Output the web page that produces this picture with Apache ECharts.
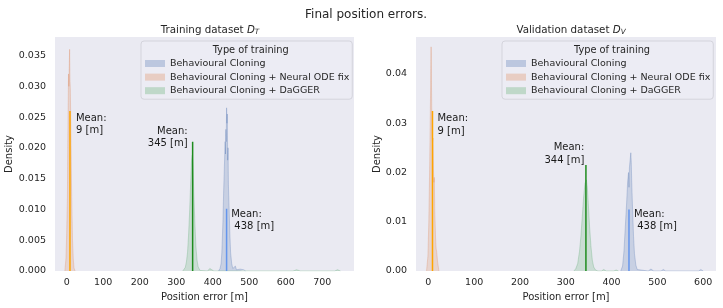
<!DOCTYPE html>
<html><head><meta charset="utf-8">
<script src="https://cdn.jsdelivr.net/npm/echarts@6/dist/echarts.min.js"></script>
<style>html,body{margin:0;padding:0;background:#fff}#c{width:723px;height:308px}</style>
</head><body><div id="c"></div>
<script>
// ---------- data ----------
const seriesNames = ['Behavioural Cloning', 'Behavioural Cloning + Neural ODE fix', 'Behavioural Cloning + DaGGER'];

// Training dataset: density curves
const trainBC_x = [416,420,423,425,428,430,432,434,435,436,437,438,439,440,441,442,443,445,447,449,452,455,458,462,465,470,475,480,485,490];
const trainBC_y = [0,0.0004,0.0012,0.003,0.008,0.013,0.017,0.021,0.019,0.023,0.021,0.0265,0.024,0.0255,0.018,0.020,0.014,0.010,0.006,0.003,0.0012,0.0004,0.0002,0.0008,0.0002,0.0004,0.0003,0.0006,0.0002,0];
const trainODE_x = [-5,-2,0,2,3,4,5,6,7,8,9,10,11,12,13,14,15,16,18,20,23];
const trainODE_y = [0,0.002,0.006,0.012,0.020,0.026,0.032,0.030,0.033,0.036,0.031,0.0295,0.025,0.020,0.015,0.011,0.008,0.005,0.002,0.0005,0];
const trainDAG_x = [318,322,325,328,331,334,337,340,342,344,346,348,351,354,357,360,365,370,386,392,397,403,620,630,640,734,742,750];
const trainDAG_y = [0,0.0002,0.0006,0.0015,0.003,0.006,0.010,0.015,0.018,0.0188,0.017,0.013,0.008,0.004,0.0018,0.0007,0.0001,0,0,0.0004,0.0005,0,0,0.0002,0,0,0.0002,0];

// Validation dataset: density curves
const valBC_x = [420,424,427,430,433,435,437,438,439,441,442,443,444,446,448,450,453,456,460,480,486,492,508,513,518,590,595,600];
const valBC_y = [0,0.001,0.004,0.009,0.014,0.018,0.020,0.017,0.021,0.023,0.024,0.022,0.018,0.012,0.007,0.0035,0.0012,0.0003,0,0,0.0004,0,0,0.0003,0,0,0.0003,0];
const valODE_x = [-4,-1,1,3,4,5,6,7,8,9,10,11,12,13,14,15,16,17,18,20,23];
const valODE_y = [0,0.003,0.010,0.022,0.030,0.038,0.0455,0.036,0.028,0.026,0.027,0.021,0.018,0.019,0.012,0.009,0.006,0.0045,0.004,0.002,0];
const valDAG_x = [318,322,326,330,333,336,339,342,345,347,349,352,355,358,361,365,370,378,383,388,405,410,415];
const valDAG_y = [0,0.0005,0.0015,0.004,0.007,0.011,0.015,0.0178,0.0185,0.017,0.014,0.009,0.005,0.0022,0.0008,0.0002,0,0,0.0003,0,0,0.0002,0];

// Means (x) and mean-line heights
const trainMeans = [438, 9, 345];
const trainMeanTops = [0.0101, 0.026, 0.021];
const valMeans = [438, 9, 344];
const valMeanTops = [0.0125, 0.0325, 0.0215];

// Tick labels
const trainXTicks = [0,100,200,300,400,500,600,700];
const trainYTicks = [0,0.005,0.010,0.015,0.020,0.025,0.030,0.035];
const valXTicks = [0,100,200,300,400,500,600];
const valYTicks = [0,0.01,0.02,0.03,0.04];

// ---------- styles ----------
const FONT = 'DejaVu Sans';
const TXT = '#262626';
const fillCols = ['rgba(76,114,176,0.30)','rgba(221,132,82,0.30)','rgba(85,168,104,0.30)'];
const lineCols = ['rgba(76,114,176,0.35)','rgba(221,132,82,0.35)','rgba(85,168,104,0.35)'];
const meanCols = ['#6495ED','#FFA500','#1e8c1e'];

function zip(xs, ys){ return xs.map((x,i)=>[x, ys[i]]); }
function area(idx, xs, ys, ax){
  return { type:'line', name: seriesNames[idx], xAxisIndex: ax, yAxisIndex: ax,
    data: zip(xs, ys), showSymbol:false, symbol:'none', silent:true,
    itemStyle:{color: fillCols[idx]},
    lineStyle:{color: lineCols[idx], width:0.8},
    areaStyle:{color: fillCols[idx], origin: 0}, z: 2 };
}
function meanLine(idx, x, top, ax){
  return { type:'line', xAxisIndex: ax, yAxisIndex: ax, data:[[x,0],[x,top]],
    showSymbol:false, symbol:'none', silent:true,
    lineStyle:{color: meanCols[idx], width:1.5}, z: 3 };
}
function meanLabel(x, top, ax, pos, align, vAlign, txt){
  return { type:'scatter', xAxisIndex: ax, yAxisIndex: ax, symbolSize:0.01, silent:true,
    data:[[x, top]], z: 4, itemStyle:{opacity:1, color:'rgba(0,0,0,0)'},
    label:{show:true, formatter: txt, position: pos, align: align, verticalAlign: vAlign,
      fontFamily: FONT, fontSize: 10, color: '#1a1a1a', opacity:1, lineHeight: 12.5} };
}
function lbl(x){ return 'Mean:\n' + x + ' [m]'; }

const axisLabelStyle = {fontFamily: FONT, fontSize: 9.5, color: TXT};
const sub = {a:{fontFamily:FONT,fontSize:10.3,fontWeight:'normal',color:TXT},
  b:{fontFamily:FONT,fontSize:10.3,fontWeight:'normal',fontStyle:'italic',color:TXT},
  c:{fontFamily:FONT,fontSize:7.2,fontWeight:'normal',fontStyle:'italic',color:TXT,padding:[5,0,0,0]}};

const chart = echarts.init(document.getElementById('c'), null, {renderer:'canvas'});
chart.setOption({
  animation:false,
  backgroundColor:'#ffffff',
  title:[
    {text:'Final position errors.', left: 361, top: 4, textAlign:'center',
      textStyle:{fontFamily:FONT, fontSize:12, fontWeight:'normal', color:TXT}},
    {text:'{a|Training dataset }{b|D}{c|T}', left: 205, top: 19, textAlign:'center',
      textStyle:{fontWeight:'normal', rich:sub}},
    {text:'{a|Validation dataset }{b|D}{c|V}', left: 566, top: 19, textAlign:'center',
      textStyle:{fontWeight:'normal', rich:sub}},
    {text:'Type of training', left: 245.7, top: 40.5, textAlign:'center', z: 20,
      textStyle:{fontFamily:FONT, fontSize:9.8, fontWeight:'normal', color:TXT}},
    {text:'Type of training', left: 607, top: 40.5, textAlign:'center', z: 20,
      textStyle:{fontFamily:FONT, fontSize:9.8, fontWeight:'normal', color:TXT}}
  ],
  legend:[0,1].map(i=>({
    data: seriesNames, orient:'vertical', left: i===0 ? 141 : 502, top: 41,
    icon:'rect', itemWidth:20, itemHeight:7, itemGap:1.6,
    padding:[16.5,3,2.5,4], backgroundColor:'rgba(236,236,244,0.85)',
    borderColor:'#d4d4dc', borderWidth:1, borderRadius:3,
    selectedMode:false,
    textStyle:{fontFamily:FONT, fontSize:9.5, color:TXT, lineHeight:12}
  })),
  grid:[
    {left:55, top:37, width:299, height:234, show:true, backgroundColor:'#EAEAF2', borderWidth:0},
    {left:416, top:37, width:300, height:234, show:true, backgroundColor:'#EAEAF2', borderWidth:0}
  ],
  xAxis:[
    {type:'value', gridIndex:0, min:-32, max:787, name:'Position error [m]', nameLocation:'middle', nameGap:20,
      nameTextStyle:{fontFamily:FONT, fontSize:10, color:TXT},
      axisLine:{show:false}, axisTick:{show:false}, splitLine:{show:false},
      axisLabel:Object.assign({customValues: trainXTicks, margin:7}, axisLabelStyle)},
    {type:'value', gridIndex:1, min:-27, max:628, name:'Position error [m]', nameLocation:'middle', nameGap:20,
      nameTextStyle:{fontFamily:FONT, fontSize:10, color:TXT},
      axisLine:{show:false}, axisTick:{show:false}, splitLine:{show:false},
      axisLabel:Object.assign({customValues: valXTicks, margin:7}, axisLabelStyle)}
  ],
  yAxis:[
    {type:'value', gridIndex:0, min:0, max:0.038, name:'Density', nameLocation:'middle', nameGap:33,
      nameTextStyle:{fontFamily:FONT, fontSize:10, color:TXT},
      axisLine:{show:false}, axisTick:{show:false}, splitLine:{show:false},
      axisLabel:Object.assign({customValues: trainYTicks, margin:9, formatter:v=>v.toFixed(3)}, axisLabelStyle)},
    {type:'value', gridIndex:1, min:0, max:0.0475, name:'Density', nameLocation:'middle', nameGap:29,
      nameTextStyle:{fontFamily:FONT, fontSize:10, color:TXT},
      axisLine:{show:false}, axisTick:{show:false}, splitLine:{show:false},
      axisLabel:Object.assign({customValues: valYTicks, margin:9, formatter:v=>v.toFixed(2)}, axisLabelStyle)}
  ],
  series:[
    area(0, trainBC_x, trainBC_y, 0),
    area(1, trainODE_x, trainODE_y, 0),
    area(2, trainDAG_x, trainDAG_y, 0),
    area(0, valBC_x, valBC_y, 1),
    area(1, valODE_x, valODE_y, 1),
    area(2, valDAG_x, valDAG_y, 1),
    meanLine(0, trainMeans[0], trainMeanTops[0], 0),
    meanLine(1, trainMeans[1], trainMeanTops[1], 0),
    meanLine(2, trainMeans[2], trainMeanTops[2], 0),
    meanLine(0, valMeans[0], valMeanTops[0], 1),
    meanLine(1, valMeans[1], valMeanTops[1], 1),
    meanLine(2, valMeans[2], valMeanTops[2], 1),
    meanLabel(trainMeans[0], trainMeanTops[0], 0, [4.6,-1], 'left', 'top', 'Mean:\n ' + trainMeans[0] + ' [m]'),
    meanLabel(trainMeans[1], trainMeanTops[1], 0, [6,1], 'left', 'top', lbl(trainMeans[1])),
    meanLabel(trainMeans[2], trainMeanTops[2], 0, [-5,8], 'right', 'bottom', lbl(trainMeans[2])),
    meanLabel(valMeans[0], valMeanTops[0], 1, [5,-1.3], 'left', 'top', 'Mean:\n ' + valMeans[0] + ' [m]'),
    meanLabel(valMeans[1], valMeanTops[1], 1, [5,1.7], 'left', 'top', lbl(valMeans[1])),
    meanLabel(valMeans[2], valMeanTops[2], 1, [-1.6,1.3], 'right', 'bottom', lbl(valMeans[2]))
  ]
});
</script></body></html>
